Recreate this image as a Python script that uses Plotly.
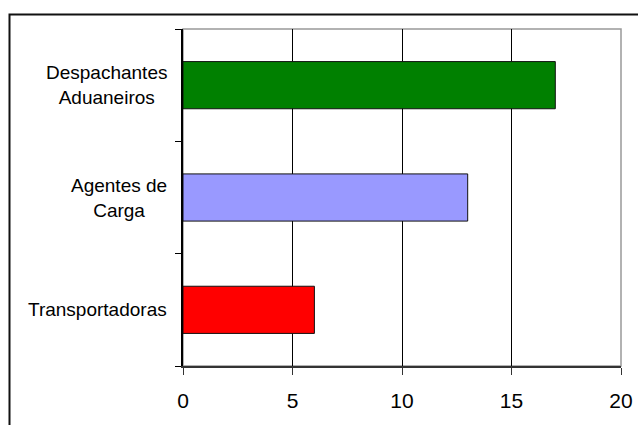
import plotly.graph_objects as go

# Categories from top to bottom, with their counts and bar colours
categories = ["Despachantes<br>Aduaneiros", "Agentes de<br>Carga", "Transportadoras"]
values = [17, 13, 6]
colors = ["#008000", "#9999FF", "#FF0000"]

x_ticks = [0, 5, 10, 15, 20]

FONT = "Liberation Sans, Arial, sans-serif"

# numeric positions so the top category sits at the top of the axis
positions = [len(categories) - 1 - i for i in range(len(categories))]

fig = go.Figure()
fig.add_trace(go.Bar(
    x=values,
    y=positions,
    orientation="h",
    width=0.42,
    marker=dict(color=colors, line=dict(color="#111111", width=1)),
    hoverinfo="x",
))

W, H = 638, 425
ml, mr, mt, mb = 183, 17, 29, 59
pw, ph = W - ml - mr, H - mt - mb

fig.update_layout(
    width=W, height=H,
    margin=dict(l=ml, r=mr, t=mt, b=mb, pad=0, autoexpand=False),
    paper_bgcolor="white",
    plot_bgcolor="white",
    showlegend=False,
    font=dict(family=FONT, size=19, color="#000000"),
    xaxis=dict(
        range=[0, 20],
        tickvals=x_ticks,
        ticktext=[str(v) for v in x_ticks],
        ticks="outside", ticklen=7, tickcolor="#333333", tickwidth=1,
        ticklabelstandoff=8,
        showgrid=True, gridcolor="#000000", gridwidth=1,
        showline=True, linecolor="#333333", linewidth=1.5,
        zeroline=False, automargin=False,
        tickfont=dict(family=FONT, size=21),
    ),
    yaxis=dict(
        range=[-0.5, len(categories) - 0.5],
        tickvals=[i - 0.5 for i in range(len(categories) + 1)],
        showticklabels=False,
        ticks="outside", ticklen=6, tickcolor="#000000", tickwidth=1,
        showgrid=False,
        showline=True, linecolor="#000000", linewidth=1.5,
        zeroline=False, automargin=False,
    ),
)

# gray border on the top and right of the plot area
fig.add_shape(type="rect", xref="paper", yref="paper", x0=0, x1=1, y0=0, y1=1,
              line=dict(color="#999999", width=1.5), layer="below")

# outer chart frame (left and top edges at 9.5px / 14.5px from the page corner)
fig.add_shape(type="rect", xref="paper", yref="paper",
              x0=(9.5 - ml) / pw, x1=1.2,
              y0=-0.4, y1=(ph + mt - 14.5) / ph,
              line=dict(color="#111111", width=2), layer="below")

# category labels: right-aligned block, lines centred
for name, pos in zip(categories, positions):
    fig.add_annotation(
        text=name, x=0, xref="paper", y=pos, yref="y",
        xanchor="right", yanchor="middle", xshift=-14,
        align="center", showarrow=False,
        font=dict(family=FONT, size=19, color="#000000"),
    )

fig.write_html("out.html")
